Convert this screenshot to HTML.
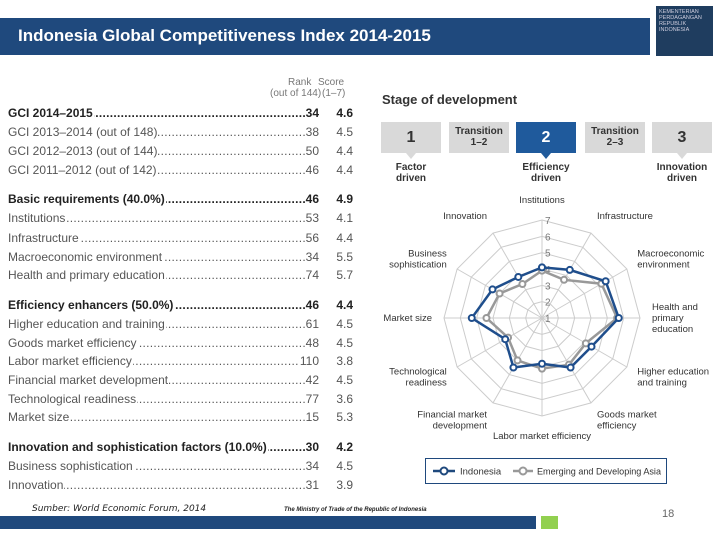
<!DOCTYPE html>
<html><head><meta charset="utf-8"><style>
body{margin:0;width:720px;height:540px;overflow:hidden;background:#fff;position:relative;font-family:"Liberation Sans",sans-serif}
.abs{position:absolute}
.row{position:absolute;left:8px;width:345px;font-size:12px;color:#555;white-space:nowrap;height:16px;line-height:16px}
.row .l{position:absolute;left:0;background:#fff;padding-right:1px}
.row .dots{position:absolute;left:0;right:36px;top:0;overflow:hidden;letter-spacing:0.3px}
.row .r{position:absolute;right:34px;background:#fff;padding-left:1px}
.row .s{position:absolute;right:0;}
.row.b{font-weight:bold;color:#222}
.box{position:absolute;top:122px;width:60px;height:31px;background:#d9d9d9;color:#333;text-align:center;font-weight:bold}
.lab{position:absolute;font-size:10px;color:#333;text-align:center;line-height:11px;font-weight:bold}
</style></head><body>
<div class="abs" style="left:0;top:18px;width:650px;height:37px;background:#1f497d"></div>
<div class="abs" style="left:18px;top:26px;font-family:'Liberation Sans',sans-serif;font-weight:bold;font-size:17px;color:#fff">Indonesia Global Competitiveness Index 2014-2015</div>
<div class="abs" style="left:656px;top:6px;width:57px;height:50px;background:#1f3d5f;color:#ccd;font-size:5.5px;line-height:6px;padding:3px;box-sizing:border-box">KEMENTERIAN<br>PERDAGANGAN<br>REPUBLIK INDONESIA</div>
<div class="abs" style="left:270px;top:77px;font-size:10px;color:#777;line-height:11px;white-space:nowrap">
<span class="abs" style="left:18px;top:0">Rank</span><span class="abs" style="left:48px;top:0">Score</span>
<span class="abs" style="left:0;top:11px">(out of 144)</span><span class="abs" style="left:52px;top:11px">(1–7)</span></div>
<div id="tbl"></div>
<div class="abs" style="left:382px;top:92px;font-size:13px;color:#333;font-weight:bold">Stage of development</div>
<div class="box" style="left:381px;font-size:16px;line-height:31px">1</div>
<div class="box" style="left:449px;font-size:10px;line-height:11px;padding-top:4px;height:27px">Transition<br>1–2</div>
<div class="box" style="left:516px;background:#1f5a9c;color:#fff;font-size:16px;line-height:31px">2</div>
<div class="box" style="left:585px;font-size:10px;line-height:11px;padding-top:4px;height:27px">Transition<br>2–3</div>
<div class="box" style="left:652px;font-size:16px;line-height:31px">3</div>
<div class="abs" style="left:406px;top:153px;border-left:5px solid transparent;border-right:5px solid transparent;border-top:6px solid #d9d9d9"></div>
<div class="abs" style="left:541px;top:153px;border-left:5px solid transparent;border-right:5px solid transparent;border-top:6px solid #1f5a9c"></div>
<div class="abs" style="left:677px;top:153px;border-left:5px solid transparent;border-right:5px solid transparent;border-top:6px solid #d9d9d9"></div>
<div class="lab" style="left:381px;top:162px;width:60px">Factor<br>driven</div>
<div class="lab" style="left:516px;top:162px;width:60px">Efficiency<br>driven</div>
<div class="lab" style="left:648px;top:162px;width:68px">Innovation<br>driven</div>
<svg class="abs" style="left:0;top:0" width="720" height="540" id="radar"></svg>
<div class="abs" style="left:425px;top:458px;width:240px;height:24px;border:1px solid #1f497d"></div>
<svg class="abs" style="left:425px;top:458px" width="242" height="26">
<line x1="8" y1="13" x2="30" y2="13" stroke="#1f497d" stroke-width="2.5"/><circle cx="19" cy="13" r="3.5" fill="#fff" stroke="#1f497d" stroke-width="2"/>
<text x="35" y="16.5" font-size="9.5" fill="#333" font-family="Liberation Sans,sans-serif">Indonesia</text>
<line x1="88" y1="13" x2="108" y2="13" stroke="#999" stroke-width="2.5"/><circle cx="98" cy="13" r="3.5" fill="#fff" stroke="#999" stroke-width="2"/>
<text x="112" y="16.5" font-size="9.5" fill="#333" font-family="Liberation Sans,sans-serif" textLength="124" lengthAdjust="spacingAndGlyphs">Emerging and Developing Asia</text>
</svg>
<div class="abs" style="left:32px;top:504px;font-size:9px;font-style:italic;color:#222;font-family:'DejaVu Sans',sans-serif">Sumber: World Economic Forum, 2014</div>
<div class="abs" style="left:284px;top:507px;font-size:6px;font-style:italic;color:#222;font-weight:bold">The Ministry of Trade of the Republic of Indonesia</div>
<div class="abs" style="left:0;top:516px;width:536px;height:13px;background:#1f497d"></div>
<div class="abs" style="left:541px;top:516px;width:17px;height:13px;background:#92d050"></div>
<div class="abs" style="left:662px;top:508px;font-size:11px;color:#666">18</div>
<script>
const rows=[["GCI 2014–2015","34","4.6",113,1],["GCI 2013–2014 (out of 148)","38","4.5",132,0],["GCI 2012–2013 (out of 144)","50","4.4",151,0],["GCI 2011–2012 (out of 142)","46","4.4",170,0],
["Basic requirements (40.0%)","46","4.9",199,1],["Institutions","53","4.1",218,0],["Infrastructure","56","4.4",238,0],["Macroeconomic environment","34","5.5",257,0],["Health and primary education","74","5.7",275,0],
["Efficiency enhancers (50.0%)","46","4.4",305,1],["Higher education and training","61","4.5",324,0],["Goods market efficiency","48","4.5",343,0],["Labor market efficiency","110","3.8",361,0],["Financial market development","42","4.5",380,0],["Technological readiness","77","3.6",399,0],["Market size","15","5.3",417,0],
["Innovation and sophistication factors (10.0%)","30","4.2",447,1],["Business sophistication","34","4.5",466,0],["Innovation","31","3.9",485,0]];
const tbl=document.getElementById('tbl');
rows.forEach(r=>{const d=document.createElement('div');d.className='row'+(r[4]?' b':'');d.style.top=(r[3]-8)+'px';


d.innerHTML='<span class="dots">'+'.'.repeat(120)+'</span><span class="l">'+r[0]+'</span><span class="r">'+r[1]+'</span><span class="s">'+r[2]+'</span>';tbl.appendChild(d);});

const categories=["Institutions","Infrastructure","Macroeconomic\nenvironment","Health and\nprimary\neducation","Higher education\nand training","Goods market\nefficiency","Labor market efficiency","Financial market\ndevelopment","Technological\nreadiness","Market size","Business\nsophistication","Innovation"];
const indonesia=[4.1,4.4,5.5,5.7,4.5,4.5,3.8,4.5,3.6,5.3,4.5,3.9];
const emergingAsia=[3.9,3.7,5.2,5.6,4.1,4.3,4.1,4.0,3.4,4.4,4.0,3.4];
const ticks=[1,2,3,4,5,6,7];
const svg=document.getElementById('radar'),NS='http://www.w3.org/2000/svg';
const cx=542,cy=318,R=98,vmin=1,vmax=7;
const rad=v=>(v-vmin)/(vmax-vmin)*R;
const pt=(i,v)=>{const a=-Math.PI/2+i*2*Math.PI/categories.length;return [cx+rad(v)*Math.cos(a),cy+rad(v)*Math.sin(a)];};
function el(t,a){const e=document.createElementNS(NS,t);for(const k in a)e.setAttribute(k,a[k]);svg.appendChild(e);return e;}
ticks.slice(1).forEach(t=>{const p=el('polygon',{points:categories.map((c,i)=>pt(i,t).join(',')).join(' '),fill:'none',stroke:'#ccc','stroke-width':1});

});
categories.forEach((c,i)=>{const [x,y]=pt(i,vmax);const l=el('line',{x1:cx,y1:cy,x2:x,y2:y,stroke:'#ccc','stroke-width':1});

});
ticks.forEach(t=>{const tx=el('text',{x:cx+3,y:cy-rad(t)+4,'font-size':10,fill:'#777','font-family':'Liberation Sans,sans-serif'});tx.textContent=t;

});
function series(vals,col,name){const p=el('polygon',{points:vals.map((v,i)=>pt(i,v).join(',')).join(' '),fill:'none',stroke:col,'stroke-width':2.5});


vals.forEach((v,i)=>{const [x,y]=pt(i,v);const c=el('circle',{cx:x,cy:y,r:3,fill:'#fff',stroke:col,'stroke-width':2});

});}
series(emergingAsia,'#999','emerging-asia');
series(indonesia,'#1f4e8c','indonesia');
categories.forEach((c,i)=>{const a=-Math.PI/2+i*2*Math.PI/categories.length;const rr=R+20;let x=cx+rr*Math.cos(a),y=cy+rr*Math.sin(a);
const lines=c.split('\n');const cs=Math.cos(a);const anchor=Math.abs(cs)<0.2?'middle':(cs>0?'start':'end');
if(Math.abs(cs)<0.2){x=cx;} else x=cx+(R+12)*cs;
const t=el('text',{x:x,y:y-(lines.length-1)*5.5+3,'font-size':9.5,fill:'#333','text-anchor':anchor,'font-family':'Liberation Sans,sans-serif'});


lines.forEach((s,j)=>{const ts=document.createElementNS(NS,'tspan');ts.setAttribute('x',x);ts.setAttribute('dy',j?11:0);ts.textContent=s;t.appendChild(ts);});});
</script>
</body></html>
